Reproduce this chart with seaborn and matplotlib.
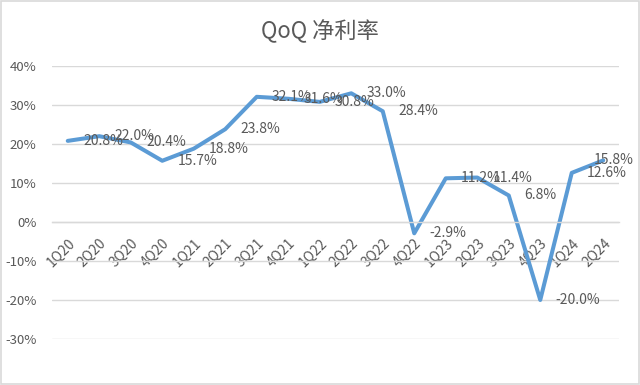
import numpy as np
import pandas as pd
import matplotlib
matplotlib.use('Agg')
import matplotlib.pyplot as plt
import seaborn as sns
from matplotlib.ticker import FuncFormatter, MultipleLocator
from matplotlib.patches import Rectangle

# Chart data (net margin, % QoQ view)
quarters = ['1Q20', '2Q20', '3Q20', '4Q20', '1Q21', '2Q21', '3Q21', '4Q21', '1Q22',
            '2Q22', '3Q22', '4Q22', '1Q23', '2Q23', '3Q23', '4Q23', '1Q24', '2Q24']
net_margin = [20.8, 22.0, 20.4, 15.7, 18.8, 23.8, 32.1, 31.6, 30.8,
              33.0, 28.4, -2.9, 11.2, 11.4, 6.8, -20.0, 12.6, 15.8]
title = 'QoQ 净利率'

TEXT = '#595959'
GRID = '#D9D9D9'
LINE = '#5B9BD5'

sns.set_theme(style='white')
plt.rcParams['font.family'] = ['Noto Sans CJK SC', 'DejaVu Sans']

df = pd.DataFrame({'Quarter': quarters, 'Margin': net_margin})

fig = plt.figure(figsize=(6.4, 3.85), dpi=100)
ax = fig.add_axes([52 / 640, 46 / 385, 567 / 640, 273 / 385])

sns.lineplot(data=df, x='Quarter', y='Margin', sort=False, color=LINE,
             linewidth=2.9, ax=ax)

ax.set_xlim(-0.5, len(quarters) - 0.5)
ax.set_ylim(-30, 40)
ax.yaxis.set_major_locator(MultipleLocator(10))
ax.yaxis.set_major_formatter(FuncFormatter(lambda v, p: f'{v:.0f}%'))
ax.grid(axis='y', color=GRID, linewidth=1)
ax.set_axisbelow(True)
ax.set_xlabel('')
ax.set_ylabel('')

for side in ['top', 'left', 'right']:
    ax.spines[side].set_visible(False)
ax.spines['bottom'].set_position(('data', 0))
ax.spines['bottom'].set_color(GRID)
ax.spines['bottom'].set_linewidth(1)

ax.tick_params(axis='y', length=0, pad=11, labelsize=9.5, labelcolor=TEXT)
ax.tick_params(axis='x', length=0, pad=10, labelsize=10, labelcolor=TEXT)
for lbl in ax.get_xticklabels():
    lbl.set_rotation(45)
    lbl.set_ha('right')
    lbl.set_va('top')
    lbl.set_rotation_mode('anchor')

labels = []
for i, v in enumerate(net_margin):
    t = ax.annotate(f'{v:.1f}%', (i, v), xytext=(11, 0), textcoords='offset points',
                    ha='left', va='center', fontsize=10, color=TEXT)
    labels.append(t)

# keep data labels inside the chart area, like Excel does
fig.canvas.draw()
renderer = fig.canvas.get_renderer()
max_x = fig.bbox.width - 6
for t in labels:
    bb = t.get_window_extent(renderer)
    if bb.x1 > max_x:
        dx = (bb.x1 - max_x) * 72 / fig.dpi
        t.xyann = (t.xyann[0] - dx, t.xyann[1])

fig.text(0.5, 1 - 31 / 385, title, ha='center', va='center',
         fontsize=16, color=TEXT)

fig.patches.append(Rectangle((0.001, 0.002), 0.997, 0.996, transform=fig.transFigure,
                             fill=False, edgecolor=GRID, linewidth=1.2))

fig.savefig('out.png', dpi=100)
